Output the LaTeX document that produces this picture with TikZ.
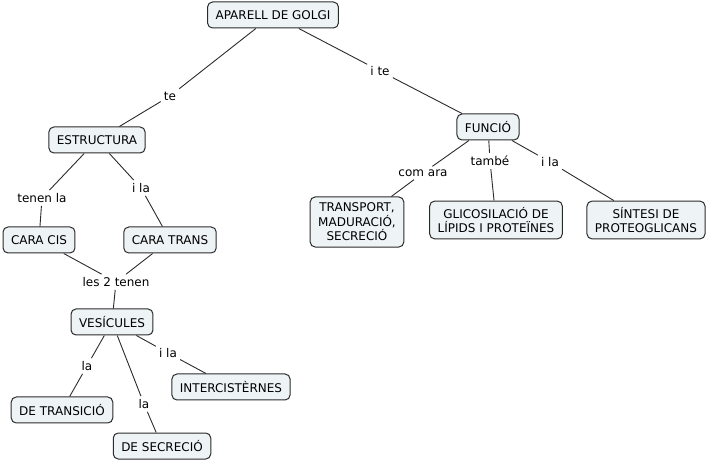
\documentclass[tikz,border=0pt]{standalone}
\usepackage{fontspec}
\setmainfont{DejaVu Sans}
\usetikzlibrary{positioning}
\definecolor{conceptfill}{HTML}{EEF4F6}
\definecolor{conceptline}{HTML}{2B2B2B}
\tikzset{concept/.style = {draw=conceptline, fill=conceptfill, rounded corners=5pt,
                           line width=1pt, inner xsep=8pt, inner ysep=6pt, minimum height=26pt,
                           align=center, font=\fontsize{12}{14.5}\selectfont}}
\tikzset{link/.style = {inner sep=3pt, font=\fontsize{12}{14}\selectfont}}
\tikzset{conn/.style = {draw=conceptline, line width=0.9pt}}

\begin{document}
\begin{tikzpicture}[x=1pt, y=-1pt]
      \useasboundingbox (0, 0) rectangle (710, 462);

      \node [concept] (golgi) at (273, 15) {APARELL DE GOLGI};
      \node [concept] (estructura) at (97, 140) {ESTRUCTURA};
      \node [concept] (funcio) at (488, 127) {FUNCIÓ};
      \node [concept] (cis) at (39, 240) {CARA CIS};
      \node [concept] (trans) at (170, 240) {CARA TRANS};
      \node [concept] (vesicules) at (112, 322) {VESÍCULES};
      \node [concept] (transicio) at (62, 410) {DE TRANSICIÓ};
      \node [concept] (secrecio) at (162, 446) {DE SECRECIÓ};
      \node [concept] (intercis) at (231, 387) {INTERCISTÈRNES};
      \node [concept] (transport) at (357, 222) {TRANSPORT,\\MADURACIÓ,\\SECRECIÓ};
      \node [concept] (glicos) at (496, 220) {GLICOSILACIÓ DE\\LÍPIDS I PROTEÏNES};
      \node [concept] (sintesi) at (646, 220) {SÍNTESI DE\\PROTEOGLICANS};

      \node [link] (te) at (170, 96) {te};
      \node [link] (ite) at (380, 71) {i te};
      \node [link] (tenenla) at (42, 198) {tenen la};
      \node [link] (ilatrans) at (141, 188) {i la};
      \node [link] (les2) at (116, 282) {les 2 tenen};
      \node [link] (latransicio) at (87, 366) {la};
      \node [link] (lasecrecio) at (144, 404) {la};
      \node [link] (ilainter) at (168, 353) {i la};
      \node [link] (comara) at (423, 173) {com ara};
      \node [link] (tambe) at (490, 161) {també};
      \node [link] (ilasintesi) at (550, 162) {i la};

      \draw [conn] (golgi) -- (te) -- (estructura);
      \draw [conn] (golgi) -- (ite) -- (funcio);
      \draw [conn] (estructura) -- (tenenla) -- (cis);
      \draw [conn] (estructura) -- (ilatrans) -- (trans);
      \draw [conn] (cis) -- (les2);
      \draw [conn] (trans) -- (les2) -- (vesicules);
      \draw [conn] (vesicules) -- (latransicio) -- (transicio);
      \draw [conn] (vesicules) -- (lasecrecio) -- (secrecio);
      \draw [conn] (vesicules) -- (ilainter) -- (intercis);
      \draw [conn] (funcio) -- (comara) -- (transport);
      \draw [conn] (funcio) -- (tambe) -- (glicos);
      \draw [conn] (funcio) -- (ilasintesi) -- (sintesi);
    \end{tikzpicture}
\end{document}
